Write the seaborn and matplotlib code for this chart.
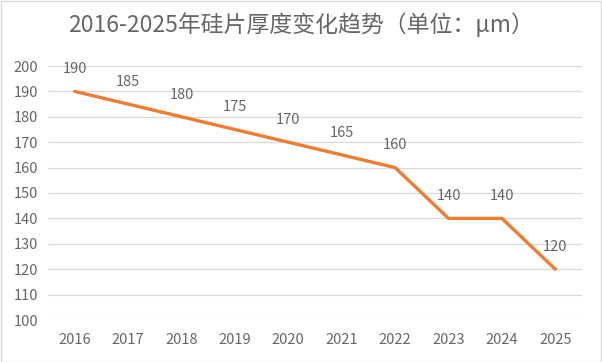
import matplotlib
matplotlib.use("Agg")
import matplotlib.pyplot as plt
import seaborn as sns
import pandas as pd
from matplotlib.patches import Rectangle

years = ["2016", "2017", "2018", "2019", "2020", "2021", "2022", "2023", "2024", "2025"]
thickness = [190, 185, 180, 175, 170, 165, 160, 140, 140, 120]
y_ticks = [100, 110, 120, 130, 140, 150, 160, 170, 180, 190, 200]
title = "2016-2025年硅片厚度变化趋势（单位：μm）"

sns.set_theme(style="white")
plt.rcParams['font.family'] = ['Noto Sans CJK SC', 'DejaVu Sans']

df = pd.DataFrame({"year": years, "thickness": thickness})

fig = plt.figure(figsize=(6.02, 3.62), dpi=100)
ax = fig.add_axes([48/602, 1 - 320/362, (582-48)/602, (320-66)/362])

sns.lineplot(data=df, x="year", y="thickness", ax=ax, color="#ED7D31",
             linewidth=2.4, sort=False, solid_joinstyle="miter")

ax.set_xlim(-0.5, len(years) - 0.5)
ax.set_ylim(100, 200)
ax.set_yticks(y_ticks)
ax.yaxis.grid(True, color="#D9D9D9", linewidth=0.9)
ax.xaxis.grid(False)
for s in ax.spines.values():
    s.set_visible(False)
ax.set_xlabel("")
ax.set_ylabel("")
ax.tick_params(axis="both", length=0, labelsize=10.5, colors="#666666")
for lab in ax.get_xticklabels() + ax.get_yticklabels():
    lab.set_fontweight("light")
ax.tick_params(axis="y", pad=7)
ax.tick_params(axis="x", pad=9)

for i, v in enumerate(thickness):
    ax.annotate(str(v), (i, v), xytext=(0, 11), textcoords="offset points",
                ha="center", va="bottom", fontsize=10.5, color="#666666",
                fontweight="light")

fig.text(0.5, 1 - 25/362, title, ha="center", va="center", fontsize=16.5,
         color="#666666", fontweight="light")

fig.patches.append(Rectangle((0.5/602, 0.5/362), 1 - 1.5/602, 1 - 1.5/362,
                             transform=fig.transFigure, fill=False,
                             edgecolor="#D9D9D9", linewidth=1))

fig.savefig("out.png", dpi=100)
